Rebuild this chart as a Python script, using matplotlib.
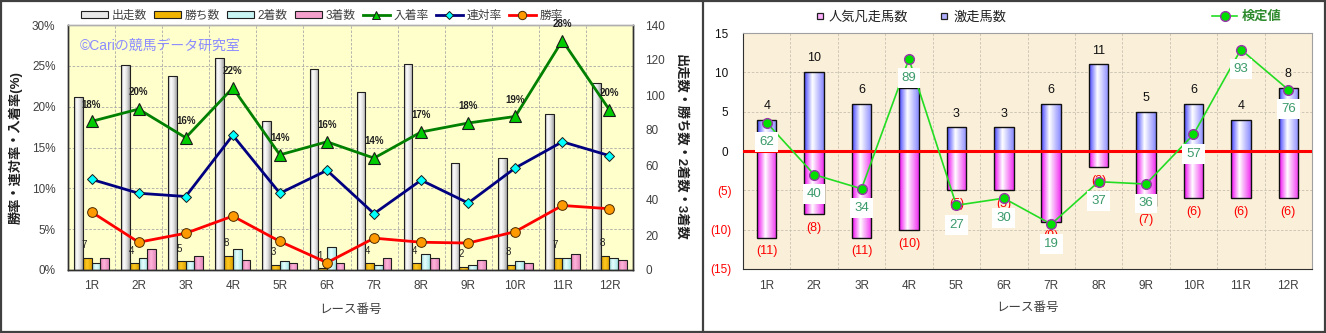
import numpy as np
import matplotlib
matplotlib.use("Agg")
import matplotlib.pyplot as plt
from matplotlib.colors import LinearSegmentedColormap
from matplotlib.patches import Patch
from matplotlib.lines import Line2D
from matplotlib.transforms import blended_transform_factory
from matplotlib.ticker import FuncFormatter, FixedLocator

plt.rcParams['font.family'] = ['Liberation Sans', 'Noto Sans CJK JP']

# ---------------- data ----------------
races = ['1R', '2R', '3R', '4R', '5R', '6R', '7R', '8R', '9R', '10R', '11R', '12R']

# left panel: counts per race
starts = [99, 117, 111, 121, 85, 115, 102, 118, 61, 64, 89, 107]
wins = [7, 4, 5, 8, 3, 1, 4, 4, 2, 3, 7, 8]
seconds = [4, 7, 5, 12, 5, 13, 3, 9, 3, 5, 7, 7]
thirds = [7, 12, 8, 6, 4, 4, 7, 7, 6, 4, 9, 6]

# left panel: rates (%)
win_rate = [7.1, 3.4, 4.5, 6.6, 3.5, 0.9, 3.9, 3.4, 3.3, 4.7, 7.9, 7.5]
quinella_rate = [11.1, 9.4, 9.0, 16.5, 9.4, 12.2, 6.9, 11.0, 8.2, 12.5, 15.7, 14.0]
place_rate = [18.2, 19.7, 16.2, 22.3, 14.1, 15.7, 13.7, 16.9, 18.0, 18.8, 28.1, 19.6]

# right panel
hot_runners = [4, 10, 6, 8, 3, 3, 6, 11, 5, 6, 4, 8]
flop_favorites = [11, 8, 11, 10, 5, 5, 9, 2, 7, 6, 6, 6]
test_values = [62, 40, 34, 89, 27, 30, 19, 37, 36, 57, 93, 76]

# ---------------- helpers ----------------
W, H = 1326, 333
fig = plt.figure(figsize=(W / 100, H / 100), dpi=100)
fig.patch.set_facecolor('white')


def px_rect(x0, y0, x1, y1):
    """Figure rectangle from pixel corners (top-left origin)."""
    return [x0 / W, 1 - y1 / H, (x1 - x0) / W, (y1 - y0) / H]


def shade_bars(ax, bars, colors, stops, zorder=2):
    cmap = LinearSegmentedColormap.from_list('shade', list(zip(stops, colors)))
    grad = np.linspace(0, 1, 128).reshape(1, -1)
    for p in bars:
        x0 = p.get_x()
        x1 = x0 + p.get_width()
        ya, yb = sorted([p.get_y(), p.get_y() + p.get_height()])
        im = ax.imshow(grad, extent=(x0, x1, ya, yb), cmap=cmap, aspect='auto',
                       interpolation='bilinear', zorder=zorder)
        im.set_clip_path(p)
        p.set_facecolor('none')
        p.set_zorder(zorder + 0.1)


x = np.arange(len(races))
TXT = '#404040'

# ================= left panel =================
ax_rate = fig.add_axes(px_rect(68, 25, 633, 270))
ax_cnt = ax_rate.twinx()
ax_rate.set_zorder(3)
ax_cnt.set_zorder(2)
ax_rate.patch.set_visible(False)
ax_cnt.patch.set_visible(True)
ax_cnt.patch.set_facecolor('#FFFFCC')

ax_rate.set_xlim(-0.5, len(races) - 0.5)
ax_rate.set_ylim(0, 30)
ax_cnt.set_ylim(0, 140)

# grid (drawn on the lower axes so it stays behind the bars)
gtrans = blended_transform_factory(ax_cnt.transAxes, ax_rate.transData)
for t in range(5, 30, 5):
    ax_cnt.add_line(Line2D([0, 1], [t, t], transform=gtrans, color='#A8A8A8',
                           lw=0.6, ls=(0, (3, 2)), zorder=0.5))
for b in np.arange(0.5, len(races) - 0.5, 1):
    ax_cnt.axvline(b, color='#A8A8A8', lw=0.6, ls=(0, (3, 2)), zorder=0.5)

bw = 0.185
b_start = ax_cnt.bar(x - 1.5 * bw, starts, bw, edgecolor='#202020', lw=0.8)
b_win = ax_cnt.bar(x - 0.5 * bw, wins, bw, edgecolor='#202020', lw=0.8)
b_2nd = ax_cnt.bar(x + 0.5 * bw, seconds, bw, edgecolor='#202020', lw=0.8)
b_3rd = ax_cnt.bar(x + 1.5 * bw, thirds, bw, edgecolor='#202020', lw=0.8)
shade_bars(ax_cnt, b_start, ['#9A9A9A', '#FFFFFF', '#E2E2E2', '#A0A0A0'], [0, 0.3, 0.65, 1])
shade_bars(ax_cnt, b_win, ['#D89E00', '#FFC820', '#E0A400'], [0, 0.45, 1])
shade_bars(ax_cnt, b_2nd, ['#9EDCDC', '#E6FFFF', '#A8E6E6'], [0, 0.45, 1])
shade_bars(ax_cnt, b_3rd, ['#E07CB0', '#FFB4DA', '#E488BC'], [0, 0.45, 1])

for p, v in zip(b_win, wins):
    ax_cnt.annotate(str(v), (p.get_x() + 0.2 * p.get_width(), v), xytext=(0, 9),
                    textcoords='offset points', ha='center', va='center',
                    fontsize=7, color='#202020', zorder=5)

ax_rate.plot(x, place_rate, color='#008000', lw=2.0, marker='^', ms=8,
             mfc='#00CC00', mec='#1A1A1A', mew=0.8, zorder=5)
ax_rate.plot(x, quinella_rate, color='#000080', lw=2.0, marker='D', ms=5.5,
             mfc='#00FFFF', mec='#1A1A1A', mew=0.7, zorder=5)
ax_rate.plot(x, win_rate, color='#FF0000', lw=2.0, marker='o', ms=7,
             mfc='#FF9900', mec='#4A2A00', mew=0.7, zorder=5)
for xi, v in zip(x, place_rate):
    ax_rate.annotate(f'{v:.0f}%', (xi, v), xytext=(0, 12), textcoords='offset points',
                     ha='center', va='center', fontsize=7, fontweight='bold',
                     color='#202020', zorder=6)

ax_rate.text(0.021, 0.914, '©Cariの競馬データ研究室', transform=ax_rate.transAxes,
             fontsize=10, color='#8C8CFF', va='center', ha='left', zorder=1)

ax_rate.yaxis.set_major_locator(FixedLocator(range(0, 31, 5)))
ax_rate.yaxis.set_major_formatter(FuncFormatter(lambda v, _: f'{v:.0f}%'))
ax_cnt.yaxis.set_major_locator(FixedLocator(range(0, 141, 20)))
ax_rate.set_xticks(x)
ax_rate.set_xticklabels(races)
for a in (ax_rate, ax_cnt):
    a.tick_params(axis='both', length=0, labelsize=8.5, labelcolor=TXT)
    for s in a.spines.values():
        s.set_color('#303030')
        s.set_linewidth(1.0)
    a.spines['top'].set_color('#B0B0B0')
ax_rate.tick_params(axis='y', pad=9)
ax_cnt.tick_params(axis='y', pad=9)
ax_rate.tick_params(axis='x', pad=7)

ax_rate.set_ylabel('勝率・連対率・入着率(%)', fontsize=9.5, fontweight='bold', color='#202020')
ax_rate.yaxis.set_label_coords(-0.081, 0.5)
ax_cnt.set_ylabel('出走数・勝ち数・2着数・3着数', fontsize=9.5, fontweight='bold',
                  color='#202020', rotation=270, va='center')
ax_cnt.yaxis.set_label_coords(1.083, 0.5)
ax_rate.set_xlabel('レース番号', fontsize=9, color=TXT)
ax_rate.xaxis.set_label_coords(0.5, -0.163)
ax_rate.xaxis.label.set_va('center')

left_handles = [
    Patch(facecolor='#E8E8E8', edgecolor='#202020', lw=0.8),
    Patch(facecolor='#F0B400', edgecolor='#202020', lw=0.8),
    Patch(facecolor='#C8F4F4', edgecolor='#202020', lw=0.8),
    Patch(facecolor='#F4A0CC', edgecolor='#202020', lw=0.8),
    Line2D([], [], color='#008000', lw=2, marker='^', ms=6, mfc='#00CC00', mec='#1A1A1A', mew=0.7),
    Line2D([], [], color='#000080', lw=2, marker='D', ms=4.5, mfc='#00FFFF', mec='#1A1A1A', mew=0.7),
    Line2D([], [], color='#FF0000', lw=2, marker='o', ms=6, mfc='#FF9900', mec='#4A2A00', mew=0.7),
]
left_labels = ['出走数', '勝ち数', '2着数', '3着数', '入着率', '連対率', '勝率']
leg = fig.legend(left_handles, left_labels, loc='center', ncol=7,
                 bbox_to_anchor=(322 / W, 1 - 16 / H), frameon=False, fontsize=8.5,
                 handlelength=2.3, handleheight=0.55, handletextpad=0.3,
                 columnspacing=0.6, borderpad=0.2)
for t in leg.get_texts():
    t.set_color(TXT)

# ================= right panel =================
ax = fig.add_axes(px_rect(743, 33, 1312, 269))
ax.set_facecolor('#FAEFD9')
ax.set_xlim(-0.5, len(races) - 0.5)
ax.set_ylim(-15, 15)
ax.set_axisbelow(True)
for t in range(-10, 15, 5):
    ax.axhline(t, color='#C8C0B0', lw=0.6, ls=(0, (3, 2)), zorder=0.5)
for b in np.arange(0.5, len(races) - 0.5, 1):
    ax.axvline(b, color='#C8C0B0', lw=0.6, ls=(0, (3, 2)), zorder=0.5)

rw = 0.41
b_hot = ax.bar(x, hot_runners, rw, edgecolor='#101010', lw=1.0)
b_flop = ax.bar(x, [-v for v in flop_favorites], rw, edgecolor='#101010', lw=1.0)
shade_bars(ax, b_hot, ['#4040FF', '#FFFFFF', '#8888FF'], [0, 0.42, 1])
shade_bars(ax, b_flop, ['#F000F0', '#FFFFFF', '#F030F0'], [0, 0.42, 1])
ax.axhline(0, color='#FF0000', lw=2.2, zorder=4)

for xi, v in zip(x, hot_runners):
    ax.annotate(str(v), (xi, v), xytext=(0, 10), textcoords='offset points',
                ha='center', va='center', fontsize=9, color='#101010', zorder=5)
for xi, v in zip(x, flop_favorites):
    ax.annotate(f'({v})', (xi, -v), xytext=(0, -10), textcoords='offset points',
                ha='center', va='center', fontsize=9, color='#FF0000', zorder=5)

ax_t = ax.twinx()
ax_t.set_ylim(0, 100)
ax_t.set_yticks([])
for s in ax_t.spines.values():
    s.set_visible(False)
ax_t.plot(x, test_values, color='#22DD22', lw=1.2, marker='o', ms=7,
          mfc='#00E000', mec='#9933AA', mew=1.0, zorder=5)
for xi, v in zip(x, test_values):
    ax_t.annotate(str(v), (xi, v), xytext=(0, -14), textcoords='offset points',
                  ha='center', va='center', fontsize=9.5, color='#3A9A6A', zorder=7,
                  bbox=dict(boxstyle='square,pad=0.3', fc='white', ec='none'))

ax.set_yticks(range(-15, 16, 5))
ax.set_yticklabels([f'({-t})' if t < 0 else f'{t} ' for t in range(-15, 16, 5)])
for lab, t in zip(ax.get_yticklabels(), range(-15, 16, 5)):
    lab.set_color('#FF0000' if t < 0 else '#101010')
ax.set_xticks(x)
ax.set_xticklabels(races)
ax.tick_params(axis='both', length=0, labelsize=8.5)
ax.tick_params(axis='y', pad=8)
ax.tick_params(axis='x', pad=8, labelcolor=TXT)
for s in ax.spines.values():
    s.set_color('#A0A0A0')
ax.spines['left'].set_color('#303030')
ax.spines['bottom'].set_color('#303030')
ax.set_xlabel('レース番号', fontsize=9, color=TXT)
ax.xaxis.set_label_coords(0.5, -0.165)
ax.xaxis.label.set_va('center')

bar_handles = [
    Line2D([], [], ls='none', marker='s', ms=5, mfc='#FFB0FF', mec='#202020', mew=0.9),
    Line2D([], [], ls='none', marker='s', ms=5, mfc='#B0B0FF', mec='#202020', mew=0.9),
]
leg_b = fig.legend(bar_handles, ['人気凡走馬数', '激走馬数'], loc='center left', ncol=2,
                   bbox_to_anchor=(805 / W, 1 - 17 / H), frameon=False, fontsize=9.5,
                   handlelength=0.8, handletextpad=0.3, columnspacing=2.3, borderpad=0.2)
for t in leg_b.get_texts():
    t.set_color('#202020')
line_handle = [Line2D([], [], color='#22DD22', lw=1.2, marker='o', ms=7,
                      mfc='#00E000', mec='#9933AA', mew=1.0)]
leg_t = fig.legend(line_handle, ['検定値'], loc='center left',
                   bbox_to_anchor=(1203 / W, 1 - 17 / H), frameon=False, fontsize=9.5,
                   handlelength=1.9, handletextpad=0.35, borderpad=0.2)
for t in leg_t.get_texts():
    t.set_color('#2E8B2E')
    t.set_fontweight('bold')

# ---------------- panel frames ----------------
fc = '#404040'
for xs, ys in [([1 / W, 1 / W], [0, 1]),
               ([1 - 1 / W, 1 - 1 / W], [0, 1]),
               ([0, 1], [1 - 1 / H, 1 - 1 / H]),
               ([0, 1], [1 / H, 1 / H]),
               ([703 / W, 703 / W], [0, 1])]:
    fig.add_artist(Line2D(xs, ys, transform=fig.transFigure, color=fc, lw=1.6))

fig.savefig('out.png', dpi=100)
